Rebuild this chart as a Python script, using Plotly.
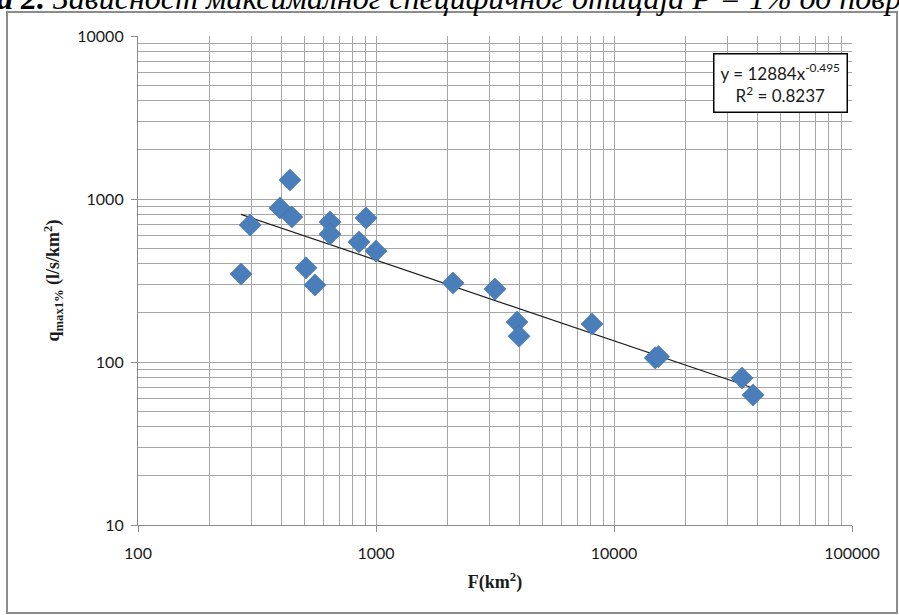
import numpy as np
import plotly.graph_objects as go

# Catchment area F (km2) and specific maximum discharge q_max1% (l/s/km2)
area_km2 = [271, 296, 395, 435, 443, 508, 554, 641, 641, 848, 908, 1000,
            2107, 3162, 3911, 3990, 8090, 14900, 15400, 34500, 38400]
q_max = [347, 692, 881, 1308, 776, 378, 297, 722, 610, 545, 765, 480,
         305, 280, 176, 144, 171, 106, 108, 79.8, 62.8]

# Power-law trendline y = a * x^b
coef_a = 12884
coef_b = -0.495
r_squared = 0.8237

W, H = 899, 615
L, R, T, B = 138, 47, 36, 90
plot_w = W - L - R
plot_h = H - T - B


def px(xp):
    return (xp - L) / plot_w


def py(yp):
    return (H - B - yp) / plot_h


trend_x = np.logspace(np.log10(min(area_km2)), np.log10(max(area_km2)), 60)
trend_y = coef_a * trend_x ** coef_b

fig = go.Figure()
fig.add_trace(go.Scatter(
    x=trend_x, y=trend_y, mode="lines",
    line=dict(color="#1a1a1a", width=1.2),
    hoverinfo="skip", showlegend=False,
))
fig.add_trace(go.Scatter(
    x=area_km2, y=q_max, mode="markers",
    marker=dict(symbol="diamond", size=17, color="#4A7EBB",
                line=dict(width=0.6, color="#3F6FA8")),
    showlegend=False,
))

grid_col = "#A6A6A6"
tick_font = dict(family="Lato, Open Sans, sans-serif", size=16, color="#1a1a1a")
axis_common = dict(
    type="log", showgrid=True, gridcolor=grid_col, gridwidth=1,
    showline=True, linecolor="#8C8C8C", linewidth=1.2,
    ticks="outside", ticklen=6, tickcolor="#8C8C8C",
    tickfont=tick_font, zeroline=False, dtick=1,
    minor=dict(dtick="D1", showgrid=True, gridcolor=grid_col, gridwidth=1, ticks=""),
    exponentformat="none", separatethousands=False,
)

fig.update_xaxes(
    **axis_common, range=[2, 5], tickvals=[100, 1000, 10000, 100000],
    ticktext=["100", "1000", "10000", "100000"], ticklabelstandoff=8,
    title=dict(text="<b>F(km<sup>2</sup>)</b>",
               font=dict(family="Liberation Serif, serif", size=18, color="#1a1a1a"),
               standoff=14),
)
fig.update_yaxes(
    **axis_common, range=[1, 4], tickvals=[10, 100, 1000, 10000],
    ticktext=["10", "100", "1000", "10000"], ticklabelstandoff=4,
    title=dict(text="<b>q<sub>max1%</sub> (l/s/km<sup>2</sup>)</b>",
               font=dict(family="Liberation Serif, serif", size=18, color="#1a1a1a"),
               standoff=12),
)

# Trendline equation box
fig.add_annotation(
    xref="paper", yref="paper", x=px(780), y=py(83),
    xanchor="center", yanchor="middle", showarrow=False,
    text="y = 12884x<sup>-0.495</sup><br>R<sup>2</sup> = 0.8237",
    font=dict(family="Lato, Open Sans, sans-serif", size=17, color="#1a1a1a"),
    align="center", bgcolor="white", bordercolor="black", borderwidth=1.5,
    borderpad=6,
)

# Caption line above the chart frame
fig.add_annotation(
    xref="paper", yref="paper", x=px(-76), y=py(-2),
    xanchor="left", yanchor="middle", showarrow=False,
    text="<b><i>Слика 2.</i></b><i> Зависност максималног специфичног отицаја P = 1% од површине слива</i>",
    font=dict(family="Liberation Serif, serif", size=32, color="#000000"),
)

# Chart frame
fig.add_shape(
    type="rect", xref="paper", yref="paper",
    x0=px(7), x1=px(897), y0=py(613), y1=py(12),
    line=dict(color="#8C8C8C", width=2), fillcolor="rgba(0,0,0,0)", layer="below",
)

fig.update_layout(
    width=W, height=H,
    margin=dict(l=L, r=R, t=T, b=B),
    paper_bgcolor="white", plot_bgcolor="white",
)

fig.write_html("out.html")
